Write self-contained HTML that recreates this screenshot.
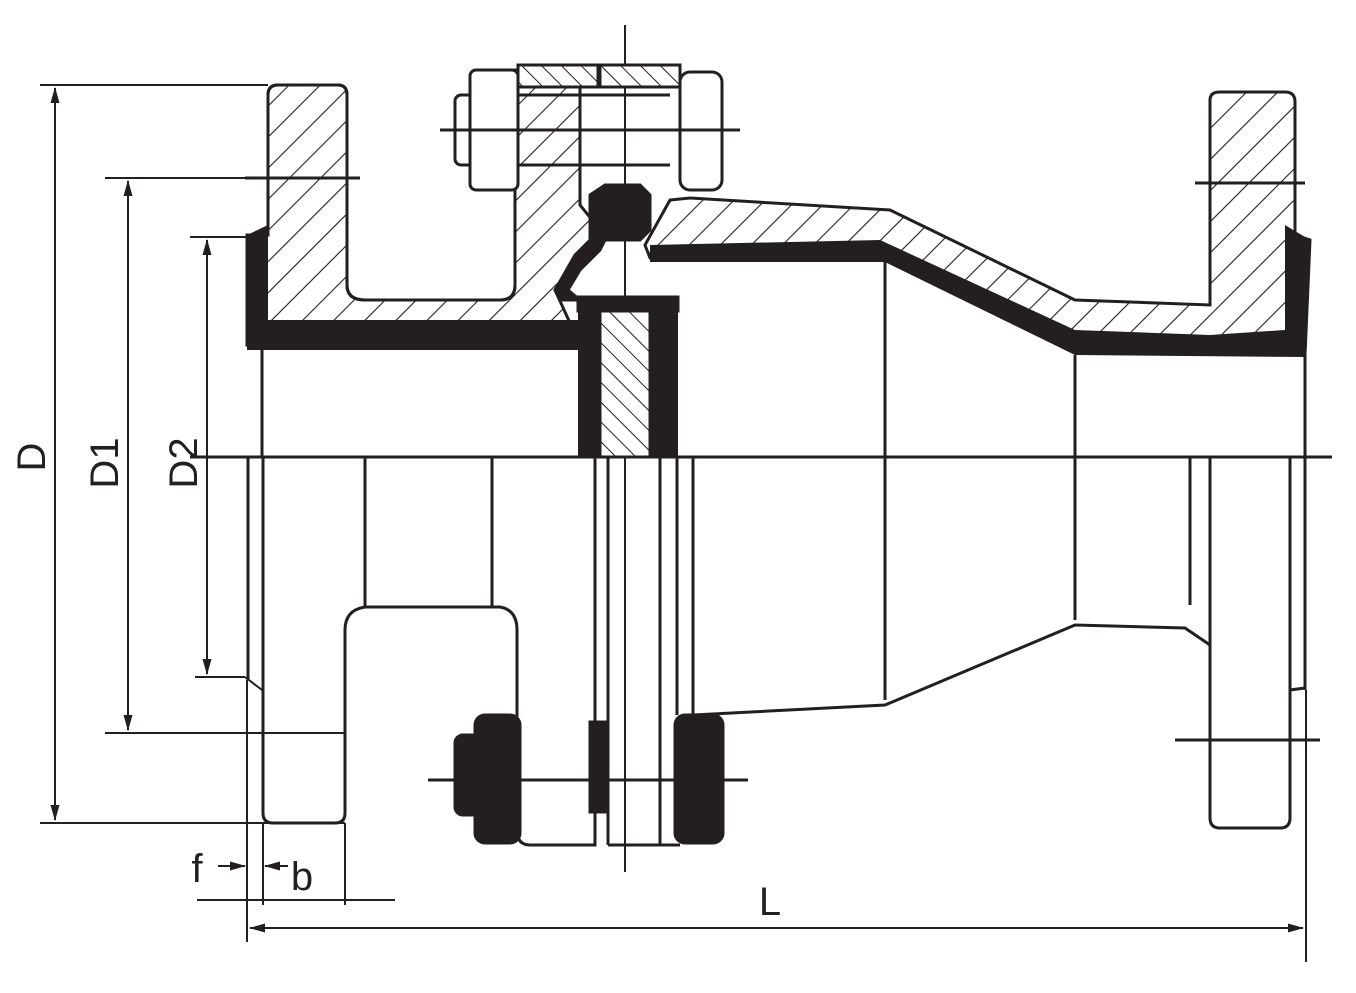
<!DOCTYPE html>
<html><head><meta charset="utf-8"><style>
html,body{margin:0;padding:0;background:#fff}
svg{display:block}
text{font-family:"Liberation Sans",sans-serif;fill:#231f20}
</style></head><body>
<svg width="1356" height="993" viewBox="0 0 1356 993" xmlns="http://www.w3.org/2000/svg">
<defs>
<pattern id="h" width="22" height="22" patternUnits="userSpaceOnUse" patternTransform="rotate(45)">
<rect width="22" height="22" fill="#fff"/><line x1="0" y1="0" x2="0" y2="22" stroke="#231f20" stroke-width="2.2"/>
</pattern>
<pattern id="h2" width="14" height="14" patternUnits="userSpaceOnUse" patternTransform="rotate(-45)">
<rect width="14" height="14" fill="#fff"/><line x1="0" y1="0" x2="0" y2="14" stroke="#231f20" stroke-width="2"/>
</pattern>
<marker id="a" markerWidth="16" markerHeight="10" refX="15" refY="5" orient="auto-start-reverse" markerUnits="userSpaceOnUse"><path d="M0,0.5 L16,5 L0,9.5 Z" fill="#231f20"/></marker>
</defs>
<g stroke="#231f20" stroke-width="3" fill="none">
<line x1="190" y1="457" x2="1332" y2="457"/>
<line x1="625" y1="25" x2="625" y2="872" stroke-width="2"/>
<line x1="40" y1="85" x2="268" y2="85" stroke-width="2"/>
<line x1="40" y1="823" x2="345" y2="823" stroke-width="2"/>
<line x1="55" y1="88" x2="55" y2="820" stroke-width="2" marker-start="url(#a)" marker-end="url(#a)"/>
<line x1="105" y1="178" x2="245" y2="178" stroke-width="2"/>
<line x1="105" y1="733" x2="345" y2="733" stroke-width="2"/>
<line x1="128" y1="181" x2="128" y2="730" stroke-width="2" marker-start="url(#a)" marker-end="url(#a)"/>
<line x1="190" y1="237" x2="250" y2="237" stroke-width="2"/>
<line x1="195" y1="677" x2="245" y2="677" stroke-width="2"/>
<line x1="245" y1="677" x2="262" y2="690" stroke-width="2"/>
<line x1="207" y1="240" x2="207" y2="674" stroke-width="2" marker-start="url(#a)" marker-end="url(#a)"/>
<line x1="247" y1="680" x2="247" y2="942" stroke-width="2"/>
<line x1="1306" y1="690" x2="1306" y2="962" stroke-width="2"/>
<line x1="250" y1="928" x2="1303" y2="928" stroke-width="2" marker-start="url(#a)" marker-end="url(#a)"/>
<line x1="197" y1="900" x2="395" y2="900" stroke-width="2"/>
<line x1="263" y1="823" x2="263" y2="905" stroke-width="2"/>
<line x1="345" y1="823" x2="345" y2="905" stroke-width="2"/>
<line x1="218" y1="866" x2="245" y2="866" stroke-width="2" marker-end="url(#a)"/>
<line x1="288" y1="866" x2="265" y2="866" stroke-width="2" marker-end="url(#a)"/>

<path d="M268,235 L268,95 Q268,85 278,85 L338,85 Q347,85 347,95 L347,285 Q347,300 365,300 L500,300 Q515,300 515,285 L515,70 L580,70 L580,205 L600,230 L595,250 L575,262 L555,290 L580,345 L247,345 L247,235 Z" fill="url(#h)"/>
<path d="M247,235 L268,225 L268,320 L580,320 L580,350 L247,350 Z" fill="#231f20" stroke="none"/>
<path d="M268,235 L268,95 Q268,85 278,85 L338,85 Q347,85 347,95 L347,285 Q347,300 365,300 L500,300 Q515,300 515,285" />
<line x1="245" y1="178" x2="360" y2="178"/>
<rect x="455" y="95" width="20" height="70" rx="6" fill="#fff"/>
<rect x="470" y="70" width="48" height="120" rx="6" fill="#fff"/>
<rect x="518" y="65" width="80" height="22" fill="url(#h2)"/>
<rect x="600" y="65" width="80" height="22" fill="url(#h2)"/>
<rect x="680" y="72" width="42" height="118" rx="10" fill="#fff"/>
<line x1="440" y1="130" x2="740" y2="130"/>
<line x1="518" y1="95" x2="670" y2="95"/>
<line x1="518" y1="165" x2="670" y2="165"/>
<path d="M590,195 L605,185 L640,185 L650,195 L650,230 L640,240 L605,240 L600,250 L580,270 L568,290 L580,300 L560,300 L555,290 L575,255 L590,240 Z" fill="#231f20"/>
<rect x="578" y="297" width="100" height="160" fill="#231f20" stroke="none"/>
<rect x="600" y="310" width="50" height="147" fill="url(#h2)"/>
<rect x="578" y="297" width="100" height="14" fill="#231f20"/>
<path d="M645,245 L670,200 L690,198 L890,210 L1075,300 L1210,305 Q1210,235 1210,235 L1210,100 Q1210,92 1220,92 L1285,92 Q1295,92 1295,102 L1295,235 L1310,240 L1305,355 L1075,352 L885,255 L650,258 Z" fill="url(#h)"/>
<path d="M650,245 L880,240 L1075,330 L1210,335 L1285,330 L1285,225 L1310,240 L1305,357 L1075,355 L885,262 L650,262 Z" fill="#231f20" stroke="none"/>
<line x1="1195" y1="183" x2="1305" y2="183"/>
<line x1="885" y1="262" x2="885" y2="700"/>
<line x1="1075" y1="355" x2="1075" y2="620"/>
<line x1="1305" y1="355" x2="1305" y2="690"/>
<line x1="262" y1="350" x2="262" y2="457"/>
<path d="M263,457 L263,813 Q263,823 273,823 L335,823 Q345,823 345,813 L345,630 Q345,610 365,607 L500,607 Q517,610 517,630 L517,830 Q517,845 530,845 L595,845 L595,457"/>
<line x1="365" y1="457" x2="365" y2="607"/>
<line x1="492" y1="457" x2="492" y2="607"/>
<line x1="608" y1="457" x2="608" y2="845"/>
<line x1="660" y1="457" x2="660" y2="845"/>
<line x1="677" y1="457" x2="677" y2="715"/>
<line x1="693" y1="457" x2="693" y2="715"/>
<line x1="248" y1="457" x2="248" y2="680"/>
<line x1="608" y1="845" x2="680" y2="845"/>
<rect x="455" y="735" width="25" height="80" rx="8" fill="#231f20"/>
<rect x="475" y="715" width="45" height="128" rx="10" fill="#231f20"/>
<rect x="590" y="722" width="15" height="90" fill="#231f20"/>
<rect x="675" y="715" width="48" height="128" rx="10" fill="#231f20"/>
<line x1="428" y1="780" x2="748" y2="780"/>
<path d="M693,715 L885,705 L1075,625 L1185,628 L1210,645"/>
<line x1="1190" y1="457" x2="1190" y2="605"/>
<path d="M1210,457 L1210,818 Q1210,828 1220,828 L1280,828 Q1290,828 1290,818 L1290,690 L1305,688"/>
<line x1="1290" y1="457" x2="1290" y2="690"/>
<line x1="1175" y1="740" x2="1320" y2="740"/>
</g>
<text x="0" y="0" font-size="40" transform="translate(45,457) rotate(-90)" text-anchor="middle">D</text>
<text x="0" y="0" font-size="40" transform="translate(118,463) rotate(-90)" text-anchor="middle">D1</text>
<text x="0" y="0" font-size="40" transform="translate(197,463) rotate(-90)" text-anchor="middle">D2</text>
<text x="770" y="915" font-size="40" text-anchor="middle">L</text>
<text x="197" y="882" font-size="40" text-anchor="middle">f</text>
<text x="302" y="890" font-size="40" text-anchor="middle">b</text>
</svg>
</body></html>
